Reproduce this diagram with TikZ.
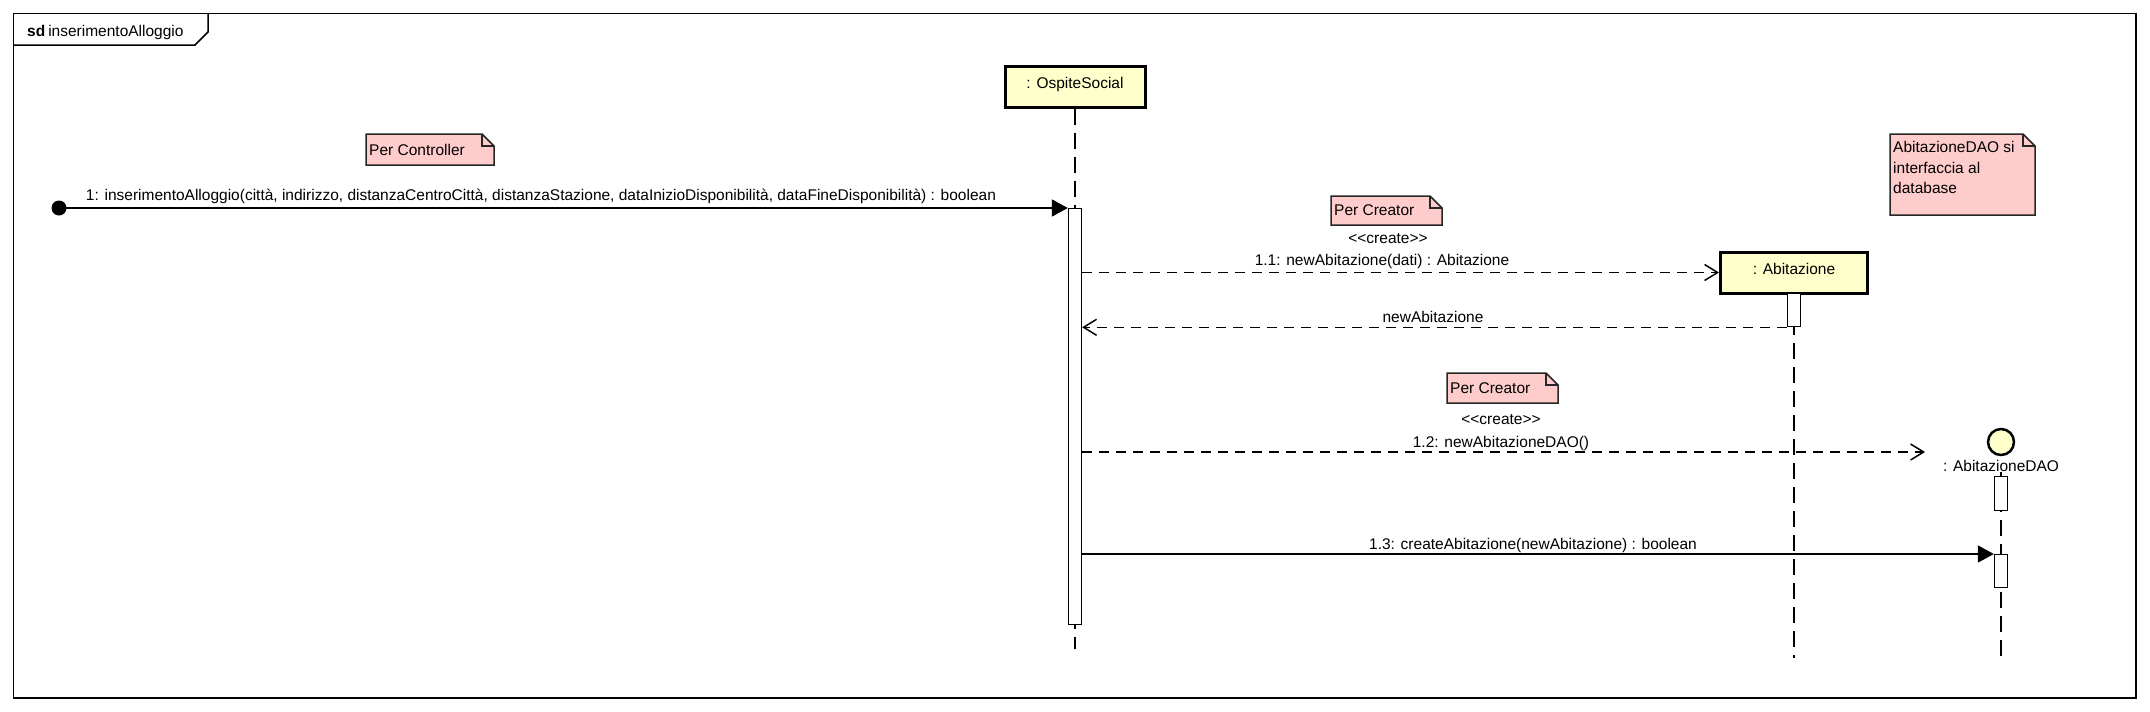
\documentclass[tikz,border=0pt]{standalone}
\usepackage{fontspec}
\setmainfont{Liberation Sans}
\usetikzlibrary{arrows.meta}
\definecolor{notepink}{RGB}{255,204,204}
\definecolor{objyellow}{RGB}{255,255,204}
\begin{document}
\begin{tikzpicture}[x=1pt,y=-1pt,
  every node/.style={font=\fontsize{15.5}{20.5}\selectfont, inner sep=0pt},
  frameline/.style={line width=1.5pt},
  objbox/.style={draw=black, line width=3pt, fill=objyellow, minimum height=41pt, text height=10pt, text depth=7pt},
  actbox/.style={draw=black, line width=1.3pt, fill=white, minimum width=13pt},
  lifeline/.style={line width=1.7pt, dash pattern=on 16pt off 8pt},
  syncmsg/.style={line width=1.5pt, -{Triangle[length=16pt,width=17pt]}},
  createmsg/.style={line width=1.5pt, dash pattern=on 9.5pt off 7.5pt, -{Straight Barb[length=13pt,width=16pt,line width=1.5pt]}},
  replymsg/.style={createmsg},
  notefill/.style={draw=black!85, line width=1.5pt, fill=notepink},
  notefold/.style={draw=black!85, line width=1.5pt},
  msglbl/.style={anchor=base},
  notetxt/.style={anchor=west},
]
\useasboundingbox (0,0) rectangle (2150,712);
% frame
\draw[frameline] (13.7,13.7) rectangle (2136,698);
\draw[frameline] (13.7,45) -- (195,45) -- (208,32) -- (208,13.7);
\node[anchor=base west] (sdlbl) at (27,36.5) {\bfseries sd\hspace{3pt}\mdseries inserimentoAlloggio};
% notes
\filldraw[notefill] (366,134) -- (482,134) -- (494,146) -- (494,165) -- (366,165) -- cycle;
\draw[notefold] (482,134) -- (482,146) -- (494,146);
\node[notetxt] (n1) at (369,149.5) {Per Controller};
\filldraw[notefill] (1331,196) -- (1430,196) -- (1442,208) -- (1442,225) -- (1331,225) -- cycle;
\draw[notefold] (1430,196) -- (1430,208) -- (1442,208);
\node[notetxt] (n2) at (1334,210.5) {Per Creator};
\filldraw[notefill] (1447,373) -- (1546,373) -- (1558,385) -- (1558,403) -- (1447,403) -- cycle;
\draw[notefold] (1546,373) -- (1546,385) -- (1558,385);
\node[notetxt] (n3) at (1450,388) {Per Creator};
\filldraw[notefill] (1890,134) -- (2023,134) -- (2035,146) -- (2035,215) -- (1890,215) -- cycle;
\draw[notefold] (2023,134) -- (2023,146) -- (2035,146);
\node[anchor=north west, align=left] (n4) at (1893,141.5) {AbitazioneDAO si\\interfaccia al\\database};
% objects
\node[objbox, minimum width=140pt] (os) at (1075,86.5) {: OspiteSocial};
\node[objbox, minimum width=147pt] (ab) at (1794,272.5) {: Abitazione};
\node[draw=black, circle, line width=2.5pt, fill=objyellow, minimum size=26pt] (dao) at (2001,442) {};
\node[anchor=base] (daolbl) at (2001,471.5) {: AbitazioneDAO};
% lifelines
\coordinate (osend) at (1075,649);
\coordinate (abend) at (1794,658);
\coordinate (daoend) at (2001,658);
\draw[lifeline] (os.south) -- (osend);
\draw[lifeline] (ab.south) -- (abend);
\draw[lifeline] (daolbl.south) -- (daoend);
% activations
\node[actbox, anchor=north, minimum height=416pt] (osact) at (1075,208) {};
\node[actbox, anchor=north, minimum height=33pt] (abact) at (1794,293) {};
\node[actbox, anchor=north, minimum height=34pt] (daoact1) at (2001,476) {};
\node[actbox, anchor=north, minimum height=33pt] (daoact2) at (2001,554) {};
% messages
\node[circle, fill=black, minimum size=15pt] (start) at (59,208) {};
\draw[syncmsg] (start.center) -- (osact.north west);
\node[msglbl] (m1) at (541,200.5) {1: inserimentoAlloggio(città, indirizzo, distanzaCentroCittà, distanzaStazione, dataInizioDisponibilità, dataFineDisponibilità) : boolean};
\draw[createmsg] (osact.east |- ab.west) -- (ab.west);
\node[msglbl] (c1) at (1388,243) {<\kern0pt<create>\kern0pt>};
\node[msglbl] (m11) at (1382,265.5) {1.1: newAbitazione(dati) : Abitazione};
\draw[replymsg] (abact.south west) -- (osact.east |- abact.south west);
\node[msglbl] (r1) at (1433,322) {newAbitazione};
\coordinate (m12tip) at (1925,452);
\draw[createmsg] (osact.east |- m12tip) -- (m12tip);
\node[msglbl] (c2) at (1501,424) {<\kern0pt<create>\kern0pt>};
\node[msglbl] (m12) at (1501,447.5) {1.2: newAbitazioneDAO()};
\draw[syncmsg] (osact.east |- daoact2.north) -- (daoact2.north west);
\node[msglbl] (m13) at (1533,549.5) {1.3: createAbitazione(newAbitazione) : boolean};
\end{tikzpicture}
\end{document}
